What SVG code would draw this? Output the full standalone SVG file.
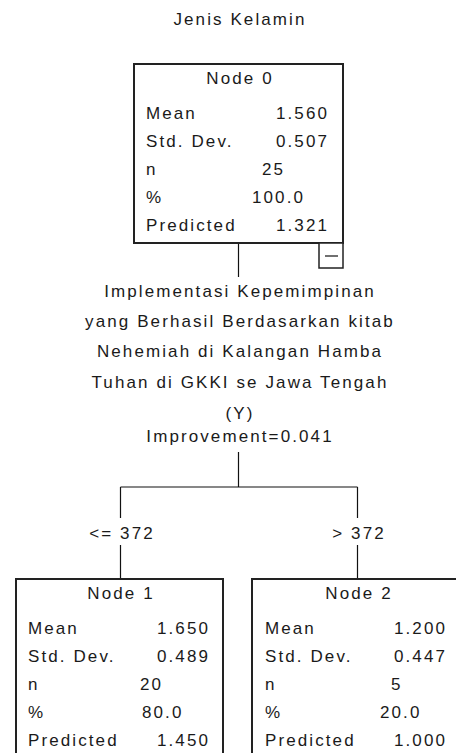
<svg xmlns="http://www.w3.org/2000/svg" width="456" height="753" viewBox="0 0 456 753">
<style>
text{font-family:"Liberation Sans",Arial,sans-serif;font-size:17px;letter-spacing:2.1px;fill:#1a1a1a}
.c{text-anchor:middle}
.e{text-anchor:end}
.box{fill:#fff;stroke:#222;stroke-width:2}
.ln{stroke:#111;stroke-width:1.2;fill:none}
</style>
<rect width="456" height="753" fill="#fff"/>
<text class="c" x="240" y="25">Jenis Kelamin</text>
<g id="connectors">
<path class="ln" d="M238.5 243V277"/>
<path class="ln" d="M238.5 452V487M120.5 487H357.5M120.5 487V518M357.5 487V518M120.5 545V579M357.5 545V579"/>
</g>
<g id="split">
<text class="c" x="240" y="297">Implementasi Kepemimpinan</text>
<text class="c" x="240" y="327">yang Berhasil Berdasarkan kitab</text>
<text class="c" x="240" y="357">Nehemiah di Kalangan Hamba</text>
<text class="c" x="240" y="388">Tuhan di GKKI se Jawa Tengah</text>
<text class="c" x="240" y="419">(Y)</text>
<text class="c" x="240" y="442">Improvement=0.041</text>
</g>
<g id="label-left"><text class="c" x="122" y="539">&lt;= 372</text></g>
<g id="label-right"><text class="c" x="359" y="539">&gt; 372</text></g>
<g id="node0">
<rect class="box" x="134" y="64" width="209" height="179"/>
<rect class="box" x="319" y="243" width="24" height="25" style="stroke-width:1.5"/>
<path class="ln" d="M325 256H338"/>
<text class="c" x="240" y="84">Node 0</text>
<text x="146" y="119">Mean</text><text class="e" x="329" y="119">1.560</text>
<text x="146" y="147">Std. Dev.</text><text class="e" x="329" y="147">0.507</text>
<text x="146" y="175">n</text><text x="262" y="175">25</text>
<text x="146" y="203">%</text><text x="252" y="203">100.0</text>
<text x="146" y="231">Predicted</text><text class="e" x="329" y="231">1.321</text>
</g>
<g id="node1">
<rect class="box" x="16" y="579" width="207" height="185"/>
<text class="c" x="121" y="599">Node 1</text>
<text x="28" y="634">Mean</text><text class="e" x="210" y="634">1.650</text>
<text x="28" y="662">Std. Dev.</text><text class="e" x="210" y="662">0.489</text>
<text x="28" y="690">n</text><text x="140" y="690">20</text>
<text x="28" y="718">%</text><text x="142" y="718">80.0</text>
<text x="28" y="746">Predicted</text><text class="e" x="210" y="746">1.450</text>
</g>
<g id="node2">
<rect class="box" x="252" y="579" width="209" height="185"/>
<text class="c" x="359" y="599">Node 2</text>
<text x="265" y="634">Mean</text><text class="e" x="447" y="634">1.200</text>
<text x="265" y="662">Std. Dev.</text><text class="e" x="447" y="662">0.447</text>
<text x="265" y="690">n</text><text x="391" y="690">5</text>
<text x="265" y="718">%</text><text x="380" y="718">20.0</text>
<text x="265" y="746">Predicted</text><text class="e" x="447" y="746">1.000</text>
</g>
</svg>
